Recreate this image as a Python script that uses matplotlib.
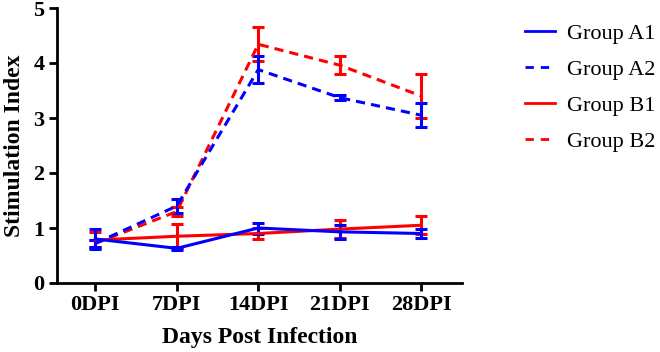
import matplotlib
matplotlib.use("Agg")
import matplotlib.pyplot as plt
from matplotlib.lines import Line2D
import numpy as np

plt.rcParams['font.family'] = ['Liberation Serif', 'DejaVu Serif']

days = ['0DPI', '7DPI', '14DPI', '21DPI', '28DPI']

a1 = [0.80, 0.63, 1.00, 0.93, 0.90]
a1_err = [0.18, 0.03, 0.10, 0.13, 0.08]
a2 = [0.72, 1.40, 3.88, 3.37, 3.05]
a2_err = [0.06, 0.12, 0.25, 0.05, 0.22]
b1 = [0.78, 0.85, 0.90, 0.98, 1.05]
b1_err = [0.15, 0.22, 0.10, 0.17, 0.16]
b2 = [0.72, 1.30, 4.34, 3.96, 3.40]
b2_err = [0.06, 0.08, 0.31, 0.16, 0.40]

x = np.arange(len(days))

fig = plt.figure(figsize=(6.6, 3.52), dpi=100)
ax = fig.add_axes([57 / 660, 1 - 283 / 352, 405 / 660, 275 / 352])

series = [
    ('Group A1', a1, a1_err, 'blue', '-'),
    ('Group A2', a2, a2_err, 'blue', '--'),
    ('Group B1', b1, b1_err, 'red', '-'),
    ('Group B2', b2, b2_err, 'red', '--'),
]

# red first so the blue lines sit on top
for label, y, err, c, ls in [series[2], series[3], series[0], series[1]]:
    line, caps, bars = ax.errorbar(x, y, yerr=err, color=c, linestyle=ls, linewidth=2.2,
                                   elinewidth=2.2, capsize=4, capthick=2.2)
    if ls == '--':
        line.set_dashes((3, 2))

leg_handles = [Line2D([], [], color=s[3], linestyle=s[4], linewidth=2,
                      dashes=(3, 2.5) if s[4] == '--' else (None, None))
               for s in series]
fig.legend(leg_handles, [s[0] for s in series], loc='upper left',
           bbox_to_anchor=(505 / 660, 1 - 3 / 352), frameon=False,
           fontsize=16, handlelength=1.35, labelspacing=0.7, handletextpad=0.55)

ax.set_xlim(-0.47, 4.5)
ax.set_ylim(0, 5)
ax.set_xticks(x)
ax.set_xticklabels(days)
ax.set_yticks(range(6))
for lbl in ax.get_xticklabels() + ax.get_yticklabels():
    lbl.set_fontweight('bold')
    lbl.set_fontsize(16)
ax.set_xlabel('Days Post Infection', fontsize=17, fontweight='bold', labelpad=8)
ax.set_ylabel('Stimulation Index', fontsize=17, fontweight='bold', labelpad=6)
ax.spines['top'].set_visible(False)
ax.spines['right'].set_visible(False)
ax.spines['left'].set_linewidth(2)
ax.spines['bottom'].set_linewidth(2)
ax.tick_params(width=2, length=6, direction='out', pad=3)

fig.savefig('out.png', dpi=100)
